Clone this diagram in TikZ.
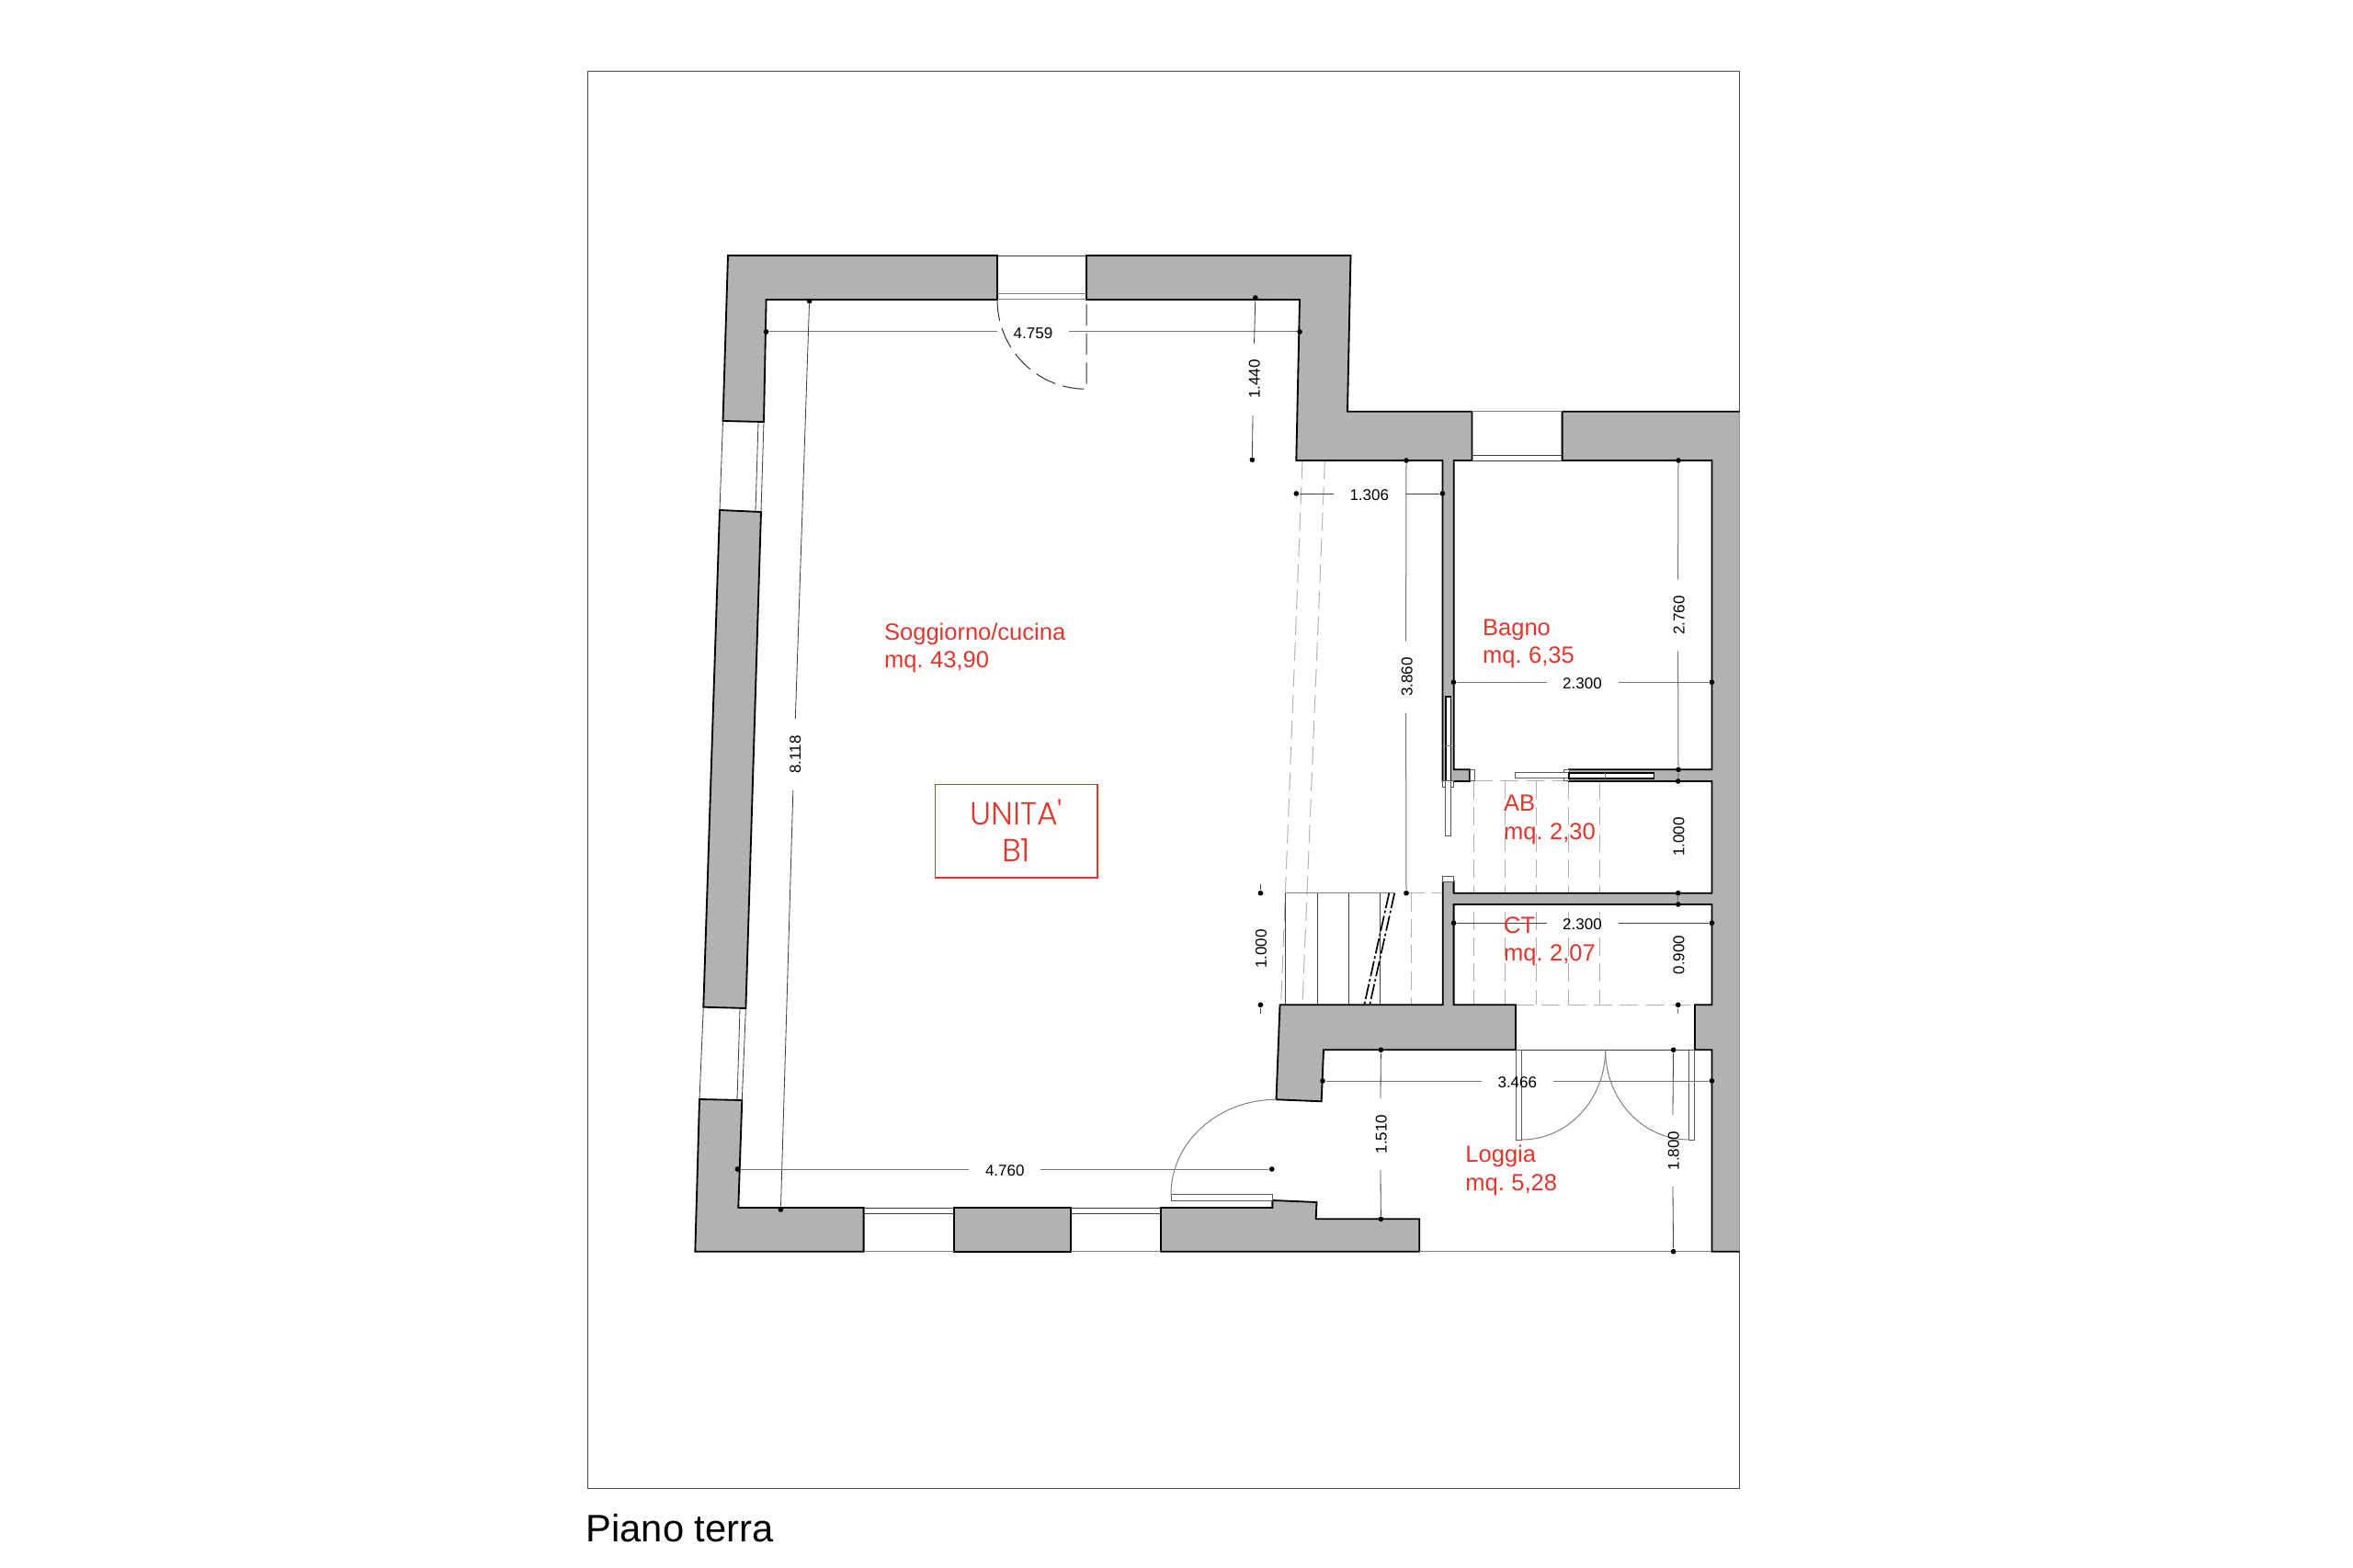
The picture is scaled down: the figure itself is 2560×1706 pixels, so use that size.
\documentclass[tikz,border=0pt]{standalone}
\usepackage{fontspec}
\setmainfont{Liberation Sans}
\newfontfamily\unitfont{Poppins Light}
\newfontfamily\roomfont[WordSpace=0.72]{Liberation Sans}
\definecolor{wallgrey}{HTML}{B2B2B2}
\definecolor{labelred}{HTML}{E3352B}
\tikzset{
  wall/.style={fill=wallgrey,draw=black,line width=0.55pt,line join=miter},
  thinline/.style={draw=black!75,line width=0.25pt},
  greyline/.style={draw=black!50,line width=0.3pt},
  hiddenline/.style={draw=black!30,line width=0.3pt,dash pattern=on 6pt off 2.5pt},
  doorline/.style={draw=black!80,line width=0.3pt,dash pattern=on 7pt off 2.5pt},
  breakline/.style={draw=black,line width=0.5pt,dash pattern=on 5pt off 0.9pt on 0.8pt off 0.9pt},
  leaf/.style={fill=white,draw=black!65,line width=0.3pt},
  pocket/.style={fill=white,draw=black,line width=0.5pt},
  dimdot/.style={circle,fill=black,inner sep=0pt,minimum size=1.7pt},
  dimline/.style={draw=black!55,line width=0.3pt},
  dimtext/.style={inner sep=0pt,minimum width=23pt,minimum height=5pt,text height=4.25pt,text depth=0pt,font=\fontsize{5.1}{6}\selectfont},
  shorttext/.style={inner sep=0pt,rotate=90,font=\fontsize{5.1}{6}\selectfont},
  roomtext/.style={anchor=base west,align=left,inner sep=0pt,text=labelred,font=\roomfont\fontsize{7.65}{9.2}\selectfont},
}
\begin{document}
\begin{tikzpicture}[x=0.3pt,y=-0.3pt]
\useasboundingbox (0,0) rectangle (2560,1706);

% sheet
\draw[draw=black!70,line width=0.3pt] (639.3,78) rectangle (1892.5,1619.3);
\node (sheettitle) [anchor=base west,inner sep=0pt,font=\fontsize{12.5}{15}\selectfont] at (637,1677.3) {Piano terra};

% hidden lines
\draw[hiddenline] (1417,501) -- (1393.6,1093.3);
\draw[hiddenline] (1441.4,501) -- (1417,1093.3);
\draw[hiddenline] (1604,850) -- (1701,850);
\draw[hiddenline] (1530,971.7) -- (1569.7,971.7);
\draw[hiddenline] (1649,1093.3) -- (1843.9,1093.3);
\draw[hiddenline] (1535.7,971.7) -- (1535.7,1093.3);
\foreach \xh in {1603.8,1637.8,1671.9,1706.3,1740.3}
  \draw[hiddenline] (\xh,850) -- (\xh,1093.3);

% walls
\draw[wall] (792,278) -- (1085,278) -- (1085,326) -- (833.6,326) -- (831,459) -- (786.5,458) -- cycle;
\draw[wall] (783,555) -- (828,557) -- (811.4,1097) -- (765.3,1095.7) -- cycle;
\draw[wall] (761,1196) -- (807.3,1197) -- (803.3,1314) -- (939.6,1314) -- (939.6,1361.7) -- (756.3,1361.7) -- cycle;
\draw[wall] (1038,1314) rectangle (1165,1361.7);
\draw[wall] (1263,1314) -- (1384.4,1314) -- (1384.4,1306) -- (1432.5,1308) -- (1431.7,1326.3) -- (1544.2,1326.3) -- (1544.2,1361.7) -- (1263,1361.7) -- cycle;
\draw[wall] (1182,278) -- (1469.5,278) -- (1466,447.7) -- (1601.4,447.7) -- (1601.4,501) -- (1581.8,501) -- (1581.8,837.3)
  -- (1599,837.3) -- (1599,850) -- (1569.4,850) -- (1569.4,501) -- (1410.3,501) -- (1414,326) -- (1182,326) -- cycle;
\draw[wall] (1892.5,1361.7) -- (1862.4,1361.7) -- (1862.4,1142.3) -- (1843.9,1142.3) -- (1843.9,1093.3) -- (1862.4,1093.3)
  -- (1862.4,984) -- (1581.6,984) -- (1581.6,1093.3) -- (1649,1093.3) -- (1649,1142.3) -- (1440,1142.3) -- (1437.7,1198.3)
  -- (1388.5,1196.3) -- (1392.5,1093.3) -- (1569.7,1093.3) -- (1569.7,959) -- (1581.6,959) -- (1581.6,971.7) -- (1862.4,971.7)
  -- (1862.4,850) -- (1707,850) -- (1707,837.3) -- (1862.4,837.3) -- (1862.4,501) -- (1699.6,501) -- (1699.6,447.7) -- (1892.5,447.7);

% windows
\draw[thinline] (1085,278) -- (1182,278);
\draw[greyline] (1085,319.3) -- (1182,319.3);
\draw[greyline] (1085,326) -- (1182,326);
\draw[greyline] (1601.4,447.7) -- (1699.6,447.7);
\draw[thinline] (1601.4,495.3) -- (1699.6,495.3);
\draw[thinline] (1601.4,501) -- (1699.6,501);
\draw[thinline] (786.5,458) -- (783,555);
\draw[thinline] (831,459) -- (828,557);
\draw[thinline] (825,459) -- (822,556);
\draw[thinline] (765.3,1095.7) -- (761,1196);
\draw[thinline] (811.4,1097) -- (807.3,1197);
\draw[thinline] (805,1097) -- (802,1197);
\draw[thinline] (939.6,1314) -- (1038,1314);
\draw[thinline] (939.6,1320) -- (1038,1320);
\draw[greyline] (939.6,1361.7) -- (1038,1361.7);
\draw[thinline] (1165,1314) -- (1263,1314);
\draw[thinline] (1165,1320) -- (1263,1320);
\draw[greyline] (1165,1361.7) -- (1263,1361.7);
\draw[greyline] (1544.2,1361.7) -- (1862.4,1361.7);

% doors
\draw[doorline] (1085,326) .. controls (1085,380) and (1128,423.3) .. (1182,423.3) -- (1182,326);
\draw[leaf] (1274,1299.3) rectangle (1384.4,1306.7);
\draw[greyline] (1274,1299.3) .. controls (1274,1243) and (1325,1196.3) .. (1388.5,1196.3);
\draw[thinline] (1649,1142.3) -- (1843.9,1142.3);
\draw[leaf] (1649,1142.3) rectangle (1655.6,1240);
\draw[leaf] (1837.6,1142.3) rectangle (1843.9,1240);
\draw[greyline] (1655.6,1240) .. controls (1706,1240) and (1746.6,1196) .. (1746.6,1142.3);
\draw[greyline] (1746.6,1142.3) .. controls (1746.6,1196) and (1787,1240) .. (1837.6,1240);

% sliding doors
\draw[leaf] (1599,837.3) rectangle (1604.5,850);
\draw[leaf] (1701.3,837.3) rectangle (1707,850);
\draw[leaf] (1648.6,840.7) rectangle (1707,846.7);
\draw[pocket] (1707,840.7) rectangle (1799.4,846.7);
\draw[greyline] (1746.7,840.7) -- (1746.7,846.7);
\draw[leaf] (1569.4,850) rectangle (1572.7,856.5);
\draw[leaf] (1578.6,850) rectangle (1581.8,856.5);
\draw[pocket] (1572.7,758) rectangle (1578.6,850);
\draw[leaf] (1572.7,850) rectangle (1578.6,909.3);
\draw[greyline] (1572.7,811.7) -- (1578.6,811.7);
\draw[leaf] (1569.7,953.3) rectangle (1581.6,959);

% stairs
\draw[greyline] (1398.5,971.7) -- (1517.2,971.7);
\foreach \xs in {1398.5,1433.2,1467.6,1501.7}
  \draw[thinline] (\xs,971.7) -- (\xs,1093.3);
\draw[breakline] (1511.3,971.7) -- (1484.3,1093.3);
\draw[breakline] (1517.2,971.7) -- (1490.2,1093.3);

% dimensions
\node[dimdot] (topw) at (833.6,361) {};
\node[dimdot] (tope) at (1414,361) {};
\node[dimtext] (toplabel) at (1124,361) {4.759};
\draw[dimline] (topw) -- (toplabel);
\draw[dimline] (toplabel) -- (tope);

\node[dimdot] (longn) at (880.6,327.7) {};
\node[dimdot] (longs) at (849.4,1316) {};
\node[dimtext,rotate=90] (longlabel) at (864,821) {8.118};
\draw[thinline] (longn) -- (longlabel);
\draw[thinline] (longlabel) -- (longs);

\node[dimdot] (nookn) at (1365.8,324) {};
\node[dimdot] (nooks) at (1362.4,500.3) {};
\node[dimtext,rotate=90] (nooklabel) at (1363.5,412.7) {1.440};
\draw[thinline] (nookn) -- (nooklabel);
\draw[thinline] (nooklabel) -- (nooks);

\node[dimdot] (hallw) at (1410.3,537) {};
\node[dimdot] (halle) at (1569.4,537) {};
\node[dimtext] (halllabel) at (1489.8,537) {1.306};
\draw[thinline] (hallw) -- (halllabel);
\draw[thinline] (halllabel) -- (halle);

\node[dimdot] (halln) at (1530,501) {};
\node[dimdot] (halls) at (1530,971.7) {};
\node[dimtext,rotate=90] (hallvlabel) at (1529.5,736.7) {3.860};
\draw[dimline] (halln) -- (hallvlabel);
\draw[dimline] (hallvlabel) -- (halls);

\node[dimdot] (bathn) at (1826,501) {};
\node[dimdot] (baths) at (1826,837.3) {};
\node[dimtext,rotate=90] (bathvlabel) at (1825.5,669.7) {2.760};
\draw[dimline] (bathn) -- (bathvlabel);
\draw[dimline] (bathvlabel) -- (baths);

\node[dimdot] (bathw) at (1581.4,742.3) {};
\node[dimdot] (bathe) at (1862.4,742.3) {};
\node[dimtext] (bathlabel) at (1721.5,742.3) {2.300};
\draw[dimline] (bathw) -- (bathlabel);
\draw[dimline] (bathlabel) -- (bathe);

\node[dimdot] (abn) at (1825.7,850) {};
\node[dimdot] (abs) at (1825.7,971.7) {};
\node[shorttext] (ablabel) at (1826.5,910.7) {1.000};
\draw[dimline] (baths) -- (abn);

\node[dimdot] (ctn) at (1825.7,984) {};
\node[dimdot] (cts) at (1825.7,1093.3) {};
\node[shorttext] (ctvlabel) at (1826.5,1039) {0.900};
\draw[dimline] (abs) -- (ctn);
\coordinate (ctstub) at (1825.7,1103);
\draw[dimline] (cts) -- (ctstub);

\node[dimdot] (ctw) at (1581.6,1004.3) {};
\node[dimdot] (cte) at (1862.4,1004.3) {};
\node[dimtext] (ctlabel) at (1721.5,1004.3) {2.300};
\draw[thinline] (ctw) -- (ctlabel);
\draw[thinline] (ctlabel) -- (cte);

\node[dimdot] (stairn) at (1371.4,971.7) {};
\node[dimdot] (stairs) at (1371.4,1093.3) {};
\node[shorttext] (stairlabel) at (1372,1032.7) {1.000};
\coordinate (stairtop) at (1371.4,961.7);
\coordinate (stairbot) at (1371.4,1103);
\draw[thinline] (stairn) -- (stairtop);
\draw[thinline] (stairs) -- (stairbot);

\node[dimdot] (roomw) at (802.4,1272) {};
\node[dimdot] (roome) at (1383.7,1272) {};
\node[dimtext] (roomlabel) at (1093.3,1272) {4.760};
\draw[dimline] (roomw) -- (roomlabel);
\draw[dimline] (roomlabel) -- (roome);

\node[dimdot] (logw) at (1439,1176) {};
\node[dimdot] (loge) at (1862.4,1176) {};
\node[dimtext] (loglabel) at (1650.8,1176) {3.466};
\draw[dimline] (logw) -- (loglabel);
\draw[dimline] (loglabel) -- (loge);

\node[dimdot] (logan) at (1502.4,1142.3) {};
\node[dimdot] (logas) at (1502.4,1326.3) {};
\node[dimtext,rotate=90] (logalabel) at (1501.6,1234) {1.510};
\draw[thinline] (logan) -- (logalabel);
\draw[thinline] (logalabel) -- (logas);

\node[dimdot] (logbn) at (1820.6,1142.3) {};
\node[dimdot] (logbs) at (1820.6,1361.7) {};
\node[dimtext,rotate=90] (logblabel) at (1819.6,1252) {1.800};
\draw[thinline] (logbn) -- (logblabel);
\draw[thinline] (logblabel) -- (logbs);

% room names
\node[roomtext] (soggiorno) at (961.5,726.7) {Soggiorno/cucina\\mq. 43,90};
\node[roomtext] (bagno) at (1612.5,721.7) {Bagno\\mq. 6,35};
\node[roomtext] (ab) at (1635.5,913.3) {AB\\mq. 2,30};
\node[roomtext] (ct) at (1635.5,1045.7) {CT\\mq. 2,07};
\node[roomtext] (loggia) at (1593.8,1295) {Loggia\\mq. 5,28};

% unit box
\node (unita) [draw=labelred,line width=0.4pt,minimum width=53pt,minimum height=30.5pt,inner sep=0pt,align=center,text=labelred,
  font=\unitfont\fontsize{10.4}{12}\selectfont] at (1105.6,904.2) {UNITA'\\B1};

\end{tikzpicture}
\end{document}
